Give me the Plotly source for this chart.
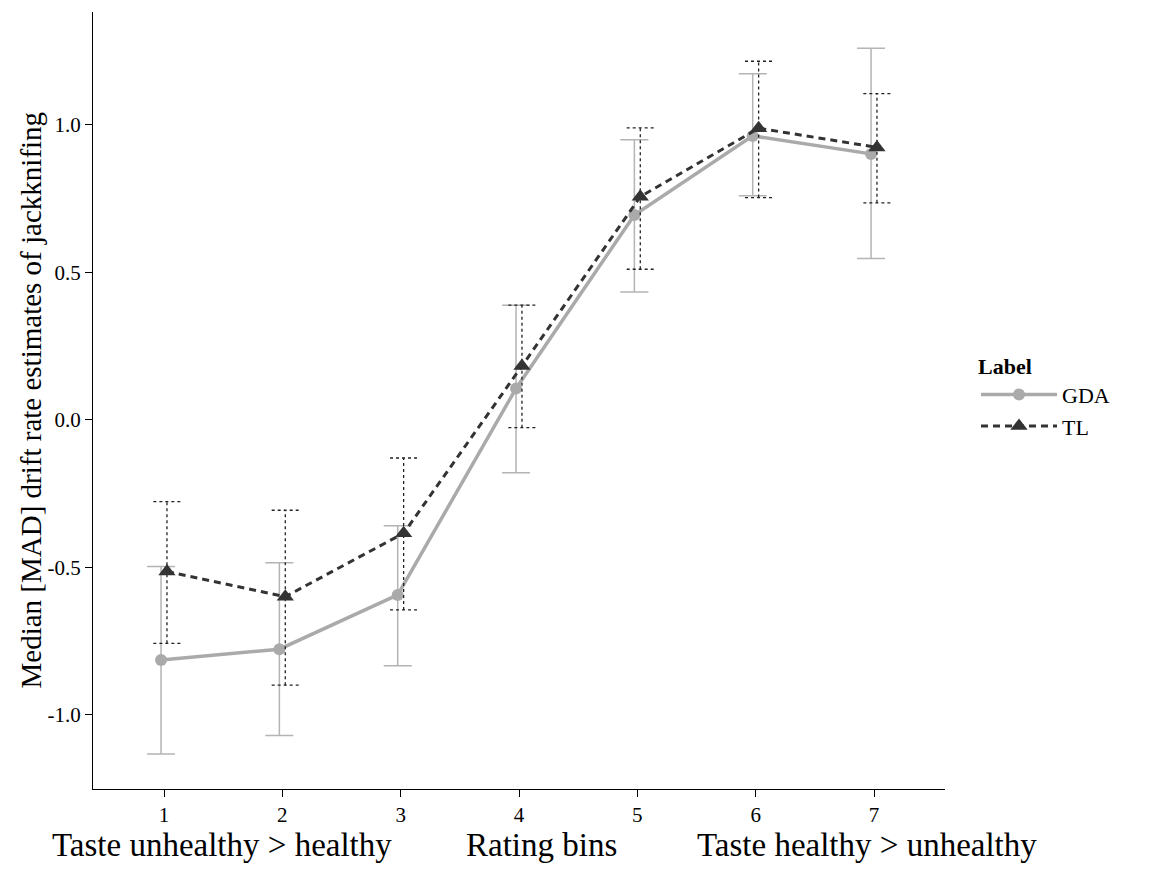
import plotly.graph_objects as go

# ---- data ----
bins = [1, 2, 3, 4, 5, 6, 7]
gda_median = [-0.814, -0.777, -0.593, 0.107, 0.695, 0.963, 0.902]
gda_upper = [-0.497, -0.484, -0.359, 0.389, 0.950, 1.174, 1.260]
gda_lower = [-1.132, -1.070, -0.833, -0.179, 0.434, 0.760, 0.547]
tl_median = [-0.514, -0.599, -0.384, 0.183, 0.757, 0.989, 0.924]
tl_upper = [-0.277, -0.306, -0.129, 0.389, 0.990, 1.216, 1.106]
tl_lower = [-0.757, -0.899, -0.644, -0.026, 0.511, 0.754, 0.736]
ytick_vals = [-1.0, -0.5, 0.0, 0.5, 1.0]
ytick_text = ["-1.0", "-0.5", "0.0", "0.5", "1.0"]
series_names = ["GDA", "TL"]

# ---- styles ----
DODGE = 0.025
CAP = 0.115
GDA_COLOR = "#aaaaaa"
GDA_ERR = "#b4b4b4"
TL_COLOR = "#333333"
FONT = "Liberation Serif, Times New Roman, serif"
W, H = 1166, 872
ML, MR, MT, MB = 93, 221, 12, 83
PW, PH = W - ML - MR, H - MT - MB

gda_x = [b - DODGE for b in bins]
tl_x = [b + DODGE for b in bins]

fig = go.Figure()

fig.add_trace(go.Scatter(
    x=gda_x, y=gda_median, mode="lines+markers", name=series_names[0],
    line=dict(color=GDA_COLOR, width=3.5),
    marker=dict(symbol="circle", size=12, color=GDA_COLOR),
    error_y=dict(type="data", symmetric=False,
                 array=[u - m for u, m in zip(gda_upper, gda_median)],
                 arrayminus=[m - l for m, l in zip(gda_median, gda_lower)],
                 color=GDA_ERR, thickness=1.5, width=14),
))

ex, ey = [], []
for x, lo, hi in zip(tl_x, tl_lower, tl_upper):
    ex += [x, x, None, x - CAP, x + CAP, None, x - CAP, x + CAP, None]
    ey += [lo, hi, None, hi, hi, None, lo, lo, None]
fig.add_trace(go.Scatter(
    x=ex, y=ey, mode="lines", showlegend=False, hoverinfo="skip",
    line=dict(color="#222222", width=1.3, dash="dot"),
))

fig.add_trace(go.Scatter(
    x=tl_x, y=tl_median, mode="lines+markers", name=series_names[1],
    line=dict(color=TL_COLOR, width=3, dash="7px,5px"),
    marker=dict(symbol="triangle-up", size=15, color=TL_COLOR),
))

fig.update_layout(
    width=W, height=H,
    margin=dict(l=ML, r=MR, t=MT, b=MB),
    plot_bgcolor="white", paper_bgcolor="white",
    font=dict(family=FONT, color="black", size=21),
    showlegend=True,
    legend=dict(
        title=dict(text="<b>Label</b>", font=dict(size=22, family=FONT)),
        font=dict(size=22, family=FONT),
        x=(976 - ML) / PW, xanchor="left", y=(MT + PH - 345) / PH, yanchor="top",
        bgcolor="rgba(0,0,0,0)", itemwidth=76,
    ),
    xaxis=dict(
        range=[0.4, 7.6], tickvals=bins, ticktext=[str(b) for b in bins],
        showline=True, linecolor="black", linewidth=1.2,
        ticks="outside", ticklen=7, tickcolor="black",
        showgrid=False, zeroline=False,
        tickfont=dict(size=21, family=FONT),
    ),
    yaxis=dict(
        range=[-1.251, 1.383], tickvals=ytick_vals, ticktext=ytick_text,
        showline=True, linecolor="black", linewidth=1.2,
        ticks="outside", ticklen=7, tickcolor="black",
        showgrid=False, zeroline=False,
        tickfont=dict(size=21, family=FONT),
    ),
)

annots = [
    dict(text="Median [MAD] drift rate estimates of jackknifing", textangle=-90,
         x=(30 - ML) / PW, y=0.5, xref="paper", yref="paper", xanchor="center", yanchor="middle",
         showarrow=False, font=dict(size=29, family=FONT)),
]
for label, px in [("Taste unhealthy > healthy", 222), ("Rating bins", 541),
                  ("Taste healthy > unhealthy", 867)]:
    annots.append(dict(text=label, x=(px - ML) / PW, y=(MT + PH - 845) / PH,
                       xref="paper", yref="paper", xanchor="center", yanchor="middle",
                       showarrow=False, font=dict(size=33, family=FONT)))
fig.update_layout(annotations=annots)

fig.write_html("out.html", config={"displayModeBar": False},
               post_script="document.body.style.margin='0px';")
